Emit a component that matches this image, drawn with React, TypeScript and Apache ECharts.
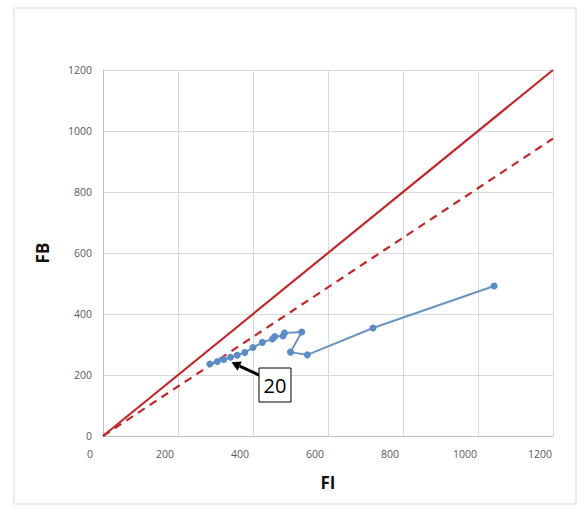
import React, { useEffect, useRef } from "react";
import * as echarts from "echarts";

const fiValues = [285, 305, 322, 340, 358, 378, 400, 425, 452, 458, 480, 484, 530, 500, 545, 720, 1043];
const fbValues = [236, 244, 251, 258, 265, 274, 290, 307, 318, 326, 328, 338, 341, 275, 266, 354, 492];
const identityLine = [[0, 0], [1200, 1200]];
const dashedLine = [[0, 0], [1200, 975]];
const annotationText = "20";
const annotationIndex = 3;

export default function App() {
  const ref = useRef<HTMLDivElement>(null);
  useEffect(() => {
    if (!ref.current) return;
    const chart = echarts.init(ref.current, null, { renderer: "svg" });
    const pts = fiValues.map((x, i) => [x, fbValues[i]]);
    const font = "'Open Sans', 'Liberation Sans', sans-serif";
    const fmt = (v: number) => String(v);
    chart.setOption({
      animation: false,
      backgroundColor: "#ffffff",
      grid: { left: 103, top: 70, width: 450, height: 366, containLabel: false },
      xAxis: {
        type: "value",
        min: 0,
        max: 1200,
        interval: 200,
        name: "FI",
        nameLocation: "middle",
        nameGap: 38,
        nameTextStyle: { fontSize: 17, fontWeight: "bold", color: "#111", fontFamily: font },
        axisLine: { show: true, lineStyle: { color: "#bfbfbf", width: 1 } },
        axisTick: { show: false },
        axisLabel: { fontSize: 10.5, color: "#595959", margin: 12, fontFamily: font, padding: [0, 26, 0, 0], formatter: fmt },
        splitLine: { show: true, lineStyle: { color: "#d9d9d9", width: 1 } },
      },
      yAxis: {
        type: "value",
        min: 0,
        max: 1200,
        interval: 200,
        name: "FB",
        nameLocation: "middle",
        nameGap: 52,
        nameRotate: 90,
        nameTextStyle: { fontSize: 17, fontWeight: "bold", color: "#111", fontFamily: font },
        axisLine: { show: true, lineStyle: { color: "#bfbfbf", width: 1 } },
        axisTick: { show: false },
        axisLabel: { fontSize: 10.5, color: "#595959", margin: 11, fontFamily: font, formatter: fmt },
        splitLine: { show: true, lineStyle: { color: "#d9d9d9", width: 1 } },
      },
      series: [
        {
          type: "line",
          data: identityLine,
          showSymbol: false,
          lineStyle: { color: "#C0282D", width: 2.2 },
          z: 2,
        },
        {
          type: "line",
          data: dashedLine,
          showSymbol: false,
          lineStyle: { color: "#C0282D", width: 2.2, type: [8, 6] },
          z: 2,
        },
        {
          type: "line",
          data: pts,
          symbol: "circle",
          symbolSize: 7,
          itemStyle: { color: "#5B8CC6" },
          lineStyle: { color: "#6A93C0", width: 2 },
          z: 3,
        },
      ],
    });
    const tip = chart.convertToPixel({ gridIndex: 0 }, pts[annotationIndex]) as number[];
    const tx = tip[0] + 1;
    const ty = tip[1] + 5;
    const bx = 259, by = 368, bw = 32, bh = 34;
    const sx = bx + 2, sy = by + 8;
    const ang = Math.atan2(ty - sy, tx - sx);
    const hl = 9, hw = 5;
    const baseX = tx - hl * Math.cos(ang), baseY = ty - hl * Math.sin(ang);
    chart.setOption({
      graphic: [
        {
          type: "rect",
          shape: { x: 14, y: 8, width: 562, height: 496 },
          style: { fill: "none", stroke: "#d9d9d9", lineWidth: 1 },
          silent: true,
        },
        {
          type: "line",
          shape: { x1: sx, y1: sy, x2: baseX, y2: baseY },
          style: { stroke: "#000", lineWidth: 3 },
          z: 10,
        },
        {
          type: "polygon",
          shape: {
            points: [
              [tx, ty],
              [baseX + hw * Math.sin(ang), baseY - hw * Math.cos(ang)],
              [baseX - hw * Math.sin(ang), baseY + hw * Math.cos(ang)],
            ],
          },
          style: { fill: "#000" },
          z: 10,
        },
        {
          type: "rect",
          shape: { x: bx, y: by, width: bw, height: bh },
          style: { fill: "#fff", stroke: "#000", lineWidth: 1 },
          z: 10,
        },
        {
          type: "text",
          x: bx + bw / 2,
          y: by + bh / 2,
          style: {
            text: annotationText,
            fontSize: 20,
            fontFamily: font,
            fill: "#000",
            align: "center",
            verticalAlign: "middle",
          },
          z: 11,
        },
      ],
    });
    return () => chart.dispose();
  }, []);
  return (
    <div
      ref={ref}
      style={{ position: "fixed", left: 0, top: 0, width: 588, height: 512 }}
    />
  );
}
